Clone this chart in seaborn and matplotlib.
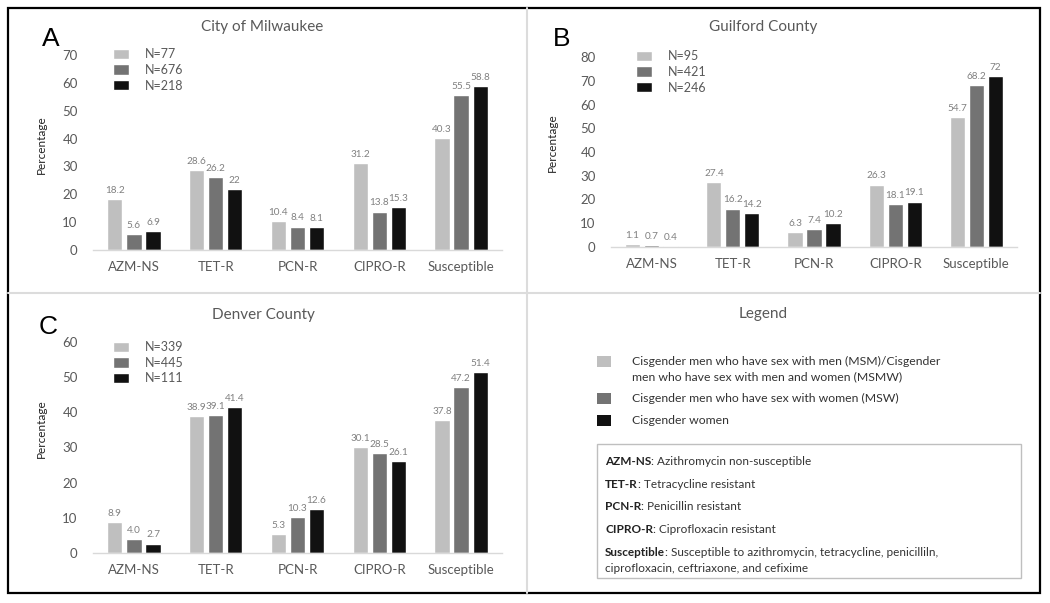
import matplotlib
matplotlib.use("Agg")
import matplotlib.pyplot as plt
from matplotlib.patches import Rectangle
import seaborn as sns
import pandas as pd

# ---------------- data ----------------
categories = ["AZM-NS", "TET-R", "PCN-R", "CIPRO-R", "Susceptible"]
groups = ["MSM/MSMW", "MSW", "Women"]

milwaukee_msm = [18.2, 28.6, 10.4, 31.2, 40.3]
milwaukee_msw = [5.6, 26.2, 8.4, 13.8, 55.5]
milwaukee_women = [6.9, 22, 8.1, 15.3, 58.8]
milwaukee_n = ["N=77", "N=676", "N=218"]

guilford_msm = [1.1, 27.4, 6.3, 26.3, 54.7]
guilford_msw = [0.7, 16.2, 7.4, 18.1, 68.2]
guilford_women = [0.4, 14.2, 10.2, 19.1, 72]
guilford_n = ["N=95", "N=421", "N=246"]

denver_msm = [8.9, 38.9, 5.3, 30.1, 37.8]
denver_msw = [4.0, 39.1, 10.3, 28.5, 47.2]
denver_women = [2.7, 41.4, 12.6, 26.1, 51.4]
denver_n = ["N=339", "N=445", "N=111"]

legend_labels = [
    "Cisgender men who have sex with men (MSM)/Cisgender\nmen who have sex with men and women (MSMW)",
    "Cisgender men who have sex with women (MSW)",
    "Cisgender women",
]
definitions = [
    ("AZM-NS", ": Azithromycin non-susceptible"),
    ("TET-R", ": Tetracycline resistant"),
    ("PCN-R", ": Penicillin resistant"),
    ("CIPRO-R", ": Ciprofloxacin resistant"),
    ("Susceptible", ": Susceptible to azithromycin, tetracycline, penicilliln,"),
]
definition_continuation = "ciprofloxacin, ceftriaxone, and cefixime"

colors = ["#bfbfbf", "#737373", "#111111"]
TXT = "#595959"

sns.set_theme(style="white")
plt.rcParams["font.family"] = ["Lato", "DejaVu Sans"]

W, H = 1050, 603
fig = plt.figure(figsize=(W / 100, H / 100), dpi=100)


def fx(px):
    return px / W


def fy(py):
    return 1 - py / H


def panel(rect_px, ymax, yticks, vals, nlabels, fmt, title, title_xy, letter, letter_xy,
          ylabel_coords, leg_xy):
    left, right, y0, ytop = rect_px
    ax = fig.add_axes([fx(left), fy(y0), (right - left) / W, (y0 - ytop) / H])
    df = pd.DataFrame({
        "category": categories * 3,
        "group": [g for g in groups for _ in categories],
        "value": vals[0] + vals[1] + vals[2],
    })
    sns.barplot(data=df, x="category", y="value", hue="group", hue_order=groups,
                order=categories, palette=colors, width=0.7, gap=0.2,
                saturation=1, ax=ax, legend=False)
    ax.set_xlim(-0.5, 4.5)
    ax.set_ylim(0, ymax)
    ax.set_yticks(yticks)
    ax.set_yticklabels([str(t) for t in yticks])
    ax.tick_params(axis="y", length=0, pad=11, labelsize=9.5, labelcolor=TXT)
    ax.tick_params(axis="x", length=0, pad=8, labelsize=9.5, labelcolor=TXT)
    for s in ["top", "right", "left"]:
        ax.spines[s].set_visible(False)
    ax.spines["bottom"].set_color("#d9d9d9")
    ax.spines["bottom"].set_linewidth(1.0)
    ax.set_xlabel("")
    ax.set_ylabel("Percentage", fontsize=8.5, color="#222222")
    ax.yaxis.set_label_coords(*ylabel_coords)
    for cont in ax.containers:
        ax.bar_label(cont, labels=[fmt.format(b.get_height()) for b in cont],
                     padding=3, fontsize=7.2, color="#808080")
    fig.text(fx(title_xy[0]), fy(title_xy[1]), title, ha="center", va="center",
             fontsize=11, color=TXT)
    fig.text(fx(letter_xy[0]), fy(letter_xy[1]), letter, ha="center", va="center",
             fontsize=19, color="black", family=["Liberation Sans", "DejaVu Sans"])
    ax.legend(ax.containers, nlabels, loc="upper left",
              bbox_to_anchor=(fx(leg_xy[0]), fy(leg_xy[1])), bbox_transform=fig.transFigure,
              frameon=False, fontsize=9, handlelength=1.25, handleheight=0.9,
              handletextpad=1.3, labelspacing=0.3, borderpad=0, borderaxespad=0,
              labelcolor=TXT)
    return ax


panel((93, 502, 250, 55), 70, list(range(0, 71, 10)),
      [milwaukee_msm, milwaukee_msw, milwaukee_women], milwaukee_n, "{:g}",
      "City of Milwaukee", (262, 27), "A", (51, 39), (-0.112, 0.54), (113, 48))
panel((611, 1017, 247, 57), 80, list(range(0, 81, 10)),
      [guilford_msm, guilford_msw, guilford_women], guilford_n, "{:g}",
      "Guilford County", (763, 27), "B", (562, 39), (-0.13, 0.55), (636, 50))
panel((93, 502, 553, 342), 60, list(range(0, 61, 10)),
      [denver_msm, denver_msw, denver_women], denver_n, "{:.1f}",
      "Denver County", (263, 315), "C", (48, 327), (-0.112, 0.59), (113, 341))

# ---------------- legend panel ----------------
fig.text(fx(763), fy(314), "Legend", ha="center", va="center", fontsize=11, color=TXT)
leg_y = [361, 398, 420]
for c, lab, yy in zip(colors, legend_labels, leg_y):
    fig.patches.append(Rectangle((fx(597), fy(yy + 6)), 14 / W, 11 / H,
                                 transform=fig.transFigure, facecolor=c, edgecolor="none"))
    tyy = yy + 8 if "\n" in lab else yy
    fig.text(fx(632), fy(tyy), lab, ha="left", va="center", fontsize=8.8,
             color="#333333", linespacing=1.45)

fig.patches.append(Rectangle((fx(597), fy(578)), (1021 - 597) / W, (578 - 444) / H,
                             transform=fig.transFigure, facecolor="none",
                             edgecolor="#bfbfbf", linewidth=1.0))
def_y = [456, 479, 501, 524, 547]
for (abbr, rest), yy in zip(definitions, def_y):
    t = fig.text(fx(605), fy(yy), abbr, ha="left", va="top", fontsize=8.5,
                 fontweight="bold", color="#222222")
    plt.annotate(rest, xy=(1, 1), xycoords=t, ha="left", va="top", fontsize=8.5,
                 color="#333333", annotation_clip=False)
fig.text(fx(605), fy(563), definition_continuation, ha="left", va="top", fontsize=8.5,
         color="#333333")

# ---------------- frames ----------------
fig.add_artist(plt.Line2D([fx(527), fx(527)], [fy(8), fy(593)], color="#dcdcdc", lw=1.5))
fig.add_artist(plt.Line2D([fx(8), fx(1040)], [fy(293), fy(293)], color="#dcdcdc", lw=1.5))
fig.patches.append(Rectangle((fx(8), fy(593)), (1040 - 8) / W, (593 - 8) / H,
                             transform=fig.transFigure, facecolor="none",
                             edgecolor="black", linewidth=1.6))

fig.savefig("out.png", dpi=100)
